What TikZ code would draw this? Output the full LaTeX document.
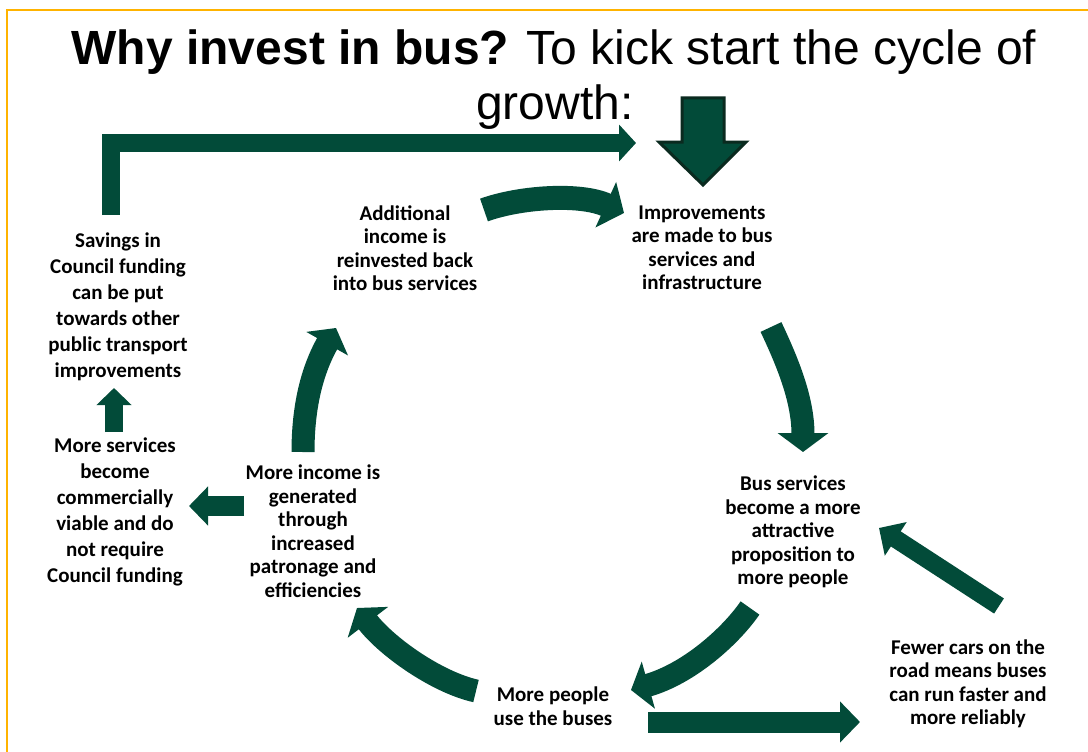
\documentclass[tikz,border=0pt]{standalone}
\usepackage{fontspec}
\setmainfont{Carlito}
\newfontfamily\titlefont{Liberation Sans}
\usetikzlibrary{arrows.meta}
\definecolor{busgreen}{HTML}{024B39}
\definecolor{busedge}{HTML}{0A2A1F}
\definecolor{framegold}{HTML}{FFB300}
\begin{document}
\begin{tikzpicture}[x=1pt,y=-1pt,
  stage/.style={align=center, inner sep=0pt,
    font=\fontsize{21}{23.5}\selectfont\bfseries},
  sidestage/.style={align=center, inner sep=0pt,
    font=\fontsize{21}{26}\selectfont\bfseries},
  flow/.style n args={3}{draw=busgreen, line width=#1,
    -{Triangle[width=#2,length=#3]}, fill=none},
  heading/.style={inner sep=0pt, anchor=base,
    font=\titlefont\fontsize{48}{55}\selectfont}
]
\useasboundingbox (0,0) rectangle (1088,752);
\fill[white] (0,0) rectangle (1088,752);

% frame lines
\draw[framegold, line width=2.2pt] (7,752) -- (7,10) -- (1088,10);

% heading
\node[heading] (title) at (554,65) {\textbf{Why invest in bus?} To kick start the cycle of};
\node[heading] (title2) at (555,120) {growth:};

% stages of the cycle
\node[stage] (reinvest) at (405,248) {Additional\\income is\\reinvested back\\into bus services};
\node[stage] (improve) at (702,248) {Improvements\\are made to bus\\services and\\infrastructure};
\node[stage] (attract) at (793,532) {Bus services\\become a more\\attractive\\proposition to\\more people};
\node[stage] (fewer) at (968,684) {Fewer cars on the\\road means buses\\can run faster and\\more reliably};
\node[stage] (people) at (553,706) {More people\\use the buses};
\node[stage] (income) at (313,531) {More income is\\generated\\through\\increased\\patronage and\\efficiencies};
\node[sidestage] (viable) at (115,512) {More services\\become\\commercially\\viable and do\\not require\\Council funding};
\node[sidestage] (savings) at (118,307) {Savings in\\Council funding\\can be put\\towards other\\public transport\\improvements};

% arrow end points
\coordinate (aT) at (484,210);  \coordinate (aH) at (624,213);
\coordinate (bT) at (771,327);  \coordinate (bH) at (803,452);
\coordinate (cT) at (750,608);  \coordinate (cH) at (631,690);
\coordinate (dT) at (648,722);  \coordinate (dH) at (860,722);
\coordinate (eT) at (476,691);  \coordinate (eH) at (357,608);
\coordinate (fT) at (303,452);  \coordinate (fH) at (336,328);
\coordinate (gT) at (999,606);  \coordinate (gH) at (879,528);
\coordinate (hT) at (114,432);  \coordinate (hH) at (114,388);
\coordinate (iT) at (244,506);  \coordinate (iH) at (189,506);
\coordinate (jT) at (111,215);  \coordinate (jC) at (111,143);
\coordinate (jH) at (636,143);

% curved cycle arrows
\draw[flow={24pt}{49pt}{20pt}] (aT) .. controls (520,197) and (580,193) .. (aH);
\draw[flow={23pt}{50pt}{19pt}] (bT) .. controls (786,359) and (803,398) .. (bH);
\draw[flow={23pt}{48pt}{18pt}] (cT) .. controls (730,637) and (688,674) .. (cH);
\draw[flow={23pt}{50pt}{18pt}] (eT) .. controls (436,682) and (386,646) .. (eH);
\draw[flow={23pt}{47pt}{18pt}] (fT) .. controls (303,412) and (310,374) .. (fH);

% straight arrows
\draw[flow={21pt}{40pt}{20pt}] (dT) -- (dH);
\draw[flow={18pt}{39pt}{20pt}] (gT) -- (gH);
\draw[flow={18pt}{34pt}{17pt}] (hT) -- (hH);
\draw[flow={20pt}{38pt}{19pt}] (iT) -- (iH);
\draw[flow={18pt}{36pt}{17pt}, miter limit=10] (jT) -- (jC) -- (jH);

% outlined entry arrow
\draw[fill=busgreen, draw=busedge, line width=3pt, line join=miter]
  (682,98) -- (724,98) -- (724,142) -- (746,142) -- (703,185)
  -- (659,142) -- (682,142) -- cycle;
\end{tikzpicture}
\end{document}
